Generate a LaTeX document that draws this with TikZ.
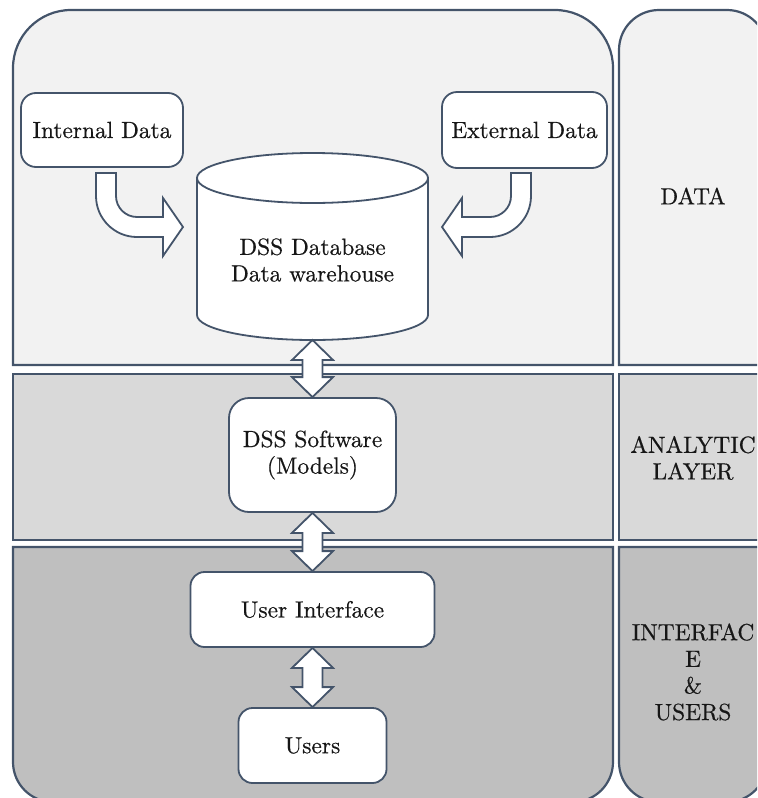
\documentclass[tikz,border=0pt]{standalone}
\usepackage{fontspec}
\setmainfont{lmroman10-regular}[Extension=.otf, FakeBold=0.5]
\usetikzlibrary{calc}
\definecolor{edge}{HTML}{44546A}
\definecolor{paneA}{HTML}{F2F2F2}
\definecolor{paneB}{HTML}{D9D9D9}
\definecolor{paneC}{HTML}{BFBFBF}
\definecolor{ink}{HTML}{161616}
\tikzset{
  pane/.style={draw=edge, line width=1.1pt},
  rbox/.style={draw=edge, fill=white, line width=0.9pt, rounded corners=#1,
               align=center, text=ink, inner sep=2pt},
  rbox/.default=7pt,
  blk/.style={draw=edge, fill=white, line width=0.9pt, line join=miter},
  lbl/.style={text=ink, align=center},
}
% vertical two-headed block arrow from tip #1 (top) to tip #2 (bottom)
\newcommand\biarrow[2]{%
  \draw[blk] (#1) -- ++(20.5,20) -- ++(-10.5,0) -- ($(#2)+(10,-20)$)
    -- ++(10.5,0) -- (#2) -- ++(-20.5,-20) -- ++(10.5,0)
    -- ($(#1)+(-10,20)$) -- ++(-10.5,0) -- cycle;}

\begin{document}
\begin{tikzpicture}[x=0.5pt, y=-0.5pt, font=\fontsize{11.7}{13.3}\selectfont]
\useasboundingbox (0,0) rectangle (757,798);
\clip (0,0) rectangle (757,798);

% ---- layer panels: main column ----
\draw[pane, fill=paneA] (13,365) -- (13,68) .. controls (13,36) and (39,10) .. (71,10)
  -- (555,10) .. controls (587,10) and (613,36) .. (613,68) -- (613,365) -- cycle;
\draw[pane, fill=paneB] (13,374) rectangle (613,540);
\draw[pane, fill=paneC] (13,547) -- (13,762) .. controls (13,784.1) and (30.9,802) .. (53,802)
  -- (573,802) .. controls (595.1,802) and (613,784.1) .. (613,762) -- (613,547) -- cycle;

% ---- layer panels: label column ----
\draw[pane, fill=paneA] (619,365) -- (619,50) .. controls (619,27.9) and (636.9,10) .. (659,10)
  -- (727,10) .. controls (749.1,10) and (767,27.9) .. (767,50) -- (767,365) -- cycle;
\draw[pane, fill=paneB] (619,374) rectangle (767,540);
\draw[pane, fill=paneC] (619,547) -- (619,762) .. controls (619,784.1) and (636.9,802) .. (659,802)
  -- (727,802) .. controls (749.1,802) and (767,784.1) .. (767,762) -- (767,547) -- cycle;

% ---- database cylinder ----
\draw[blk] (197,178) -- (197,315) arc[start angle=180, end angle=0, x radius=115.5, y radius=25]
  -- (428,178) -- cycle;
\draw[blk] (312.5,178) ellipse[x radius=115.5, y radius=25];
\coordinate (dbbot) at (312.5,340);
\node[lbl] (db) at (312.5,260) {DSS Database\\Data warehouse};

% ---- boxes ----
\node[rbox=7.5pt, minimum width=81pt, minimum height=37pt] (int) at (102,130) {Internal Data};
\node[rbox=7.5pt, minimum width=82.5pt, minimum height=38pt] (ext) at (524.5,130) {External Data};
\node[rbox=10pt, minimum width=83.5pt, minimum height=57pt] (sw) at (312.5,455) {DSS Software\\(Models)};
\node[rbox=7pt, minimum width=122pt, minimum height=37.5pt] (ui) at (312.5,609.5) {User Interface};
\node[rbox=7pt, minimum width=74pt, minimum height=37.5pt] (usr) at (312.5,745.5) {Users};

% ---- bent block arrows feeding the database ----
\draw[blk] (96,173) -- (116,173) -- (116,196) .. controls (116,207.6) and (125.4,217) .. (137,217)
  -- (163,217) -- (163,198) -- (183,227) -- (163,256) -- (163,237) -- (137,237)
  .. controls (114.4,237) and (96,218.6) .. (96,196) -- cycle;
\draw[blk] (531,173) -- (511,173) -- (511,196) .. controls (511,207.6) and (501.6,217) .. (490,217)
  -- (462,217) -- (462,198) -- (442,227) -- (462,256) -- (462,237) -- (490,237)
  .. controls (512.6,237) and (531,218.6) .. (531,196) -- cycle;

% ---- two-headed links between layers ----
\biarrow{dbbot}{sw.north}
\biarrow{sw.south}{ui.north}
\biarrow{ui.south}{usr.north}

% ---- layer names ----
\node[lbl] (ldata) at (693,196) {DATA};
\node[lbl] (lana) at (693,458) {ANALYTIC\\LAYER};
\node[lbl] (lint) at (693,672) {INTERFAC\\E\\\&\\USERS};
\end{tikzpicture}
\end{document}
